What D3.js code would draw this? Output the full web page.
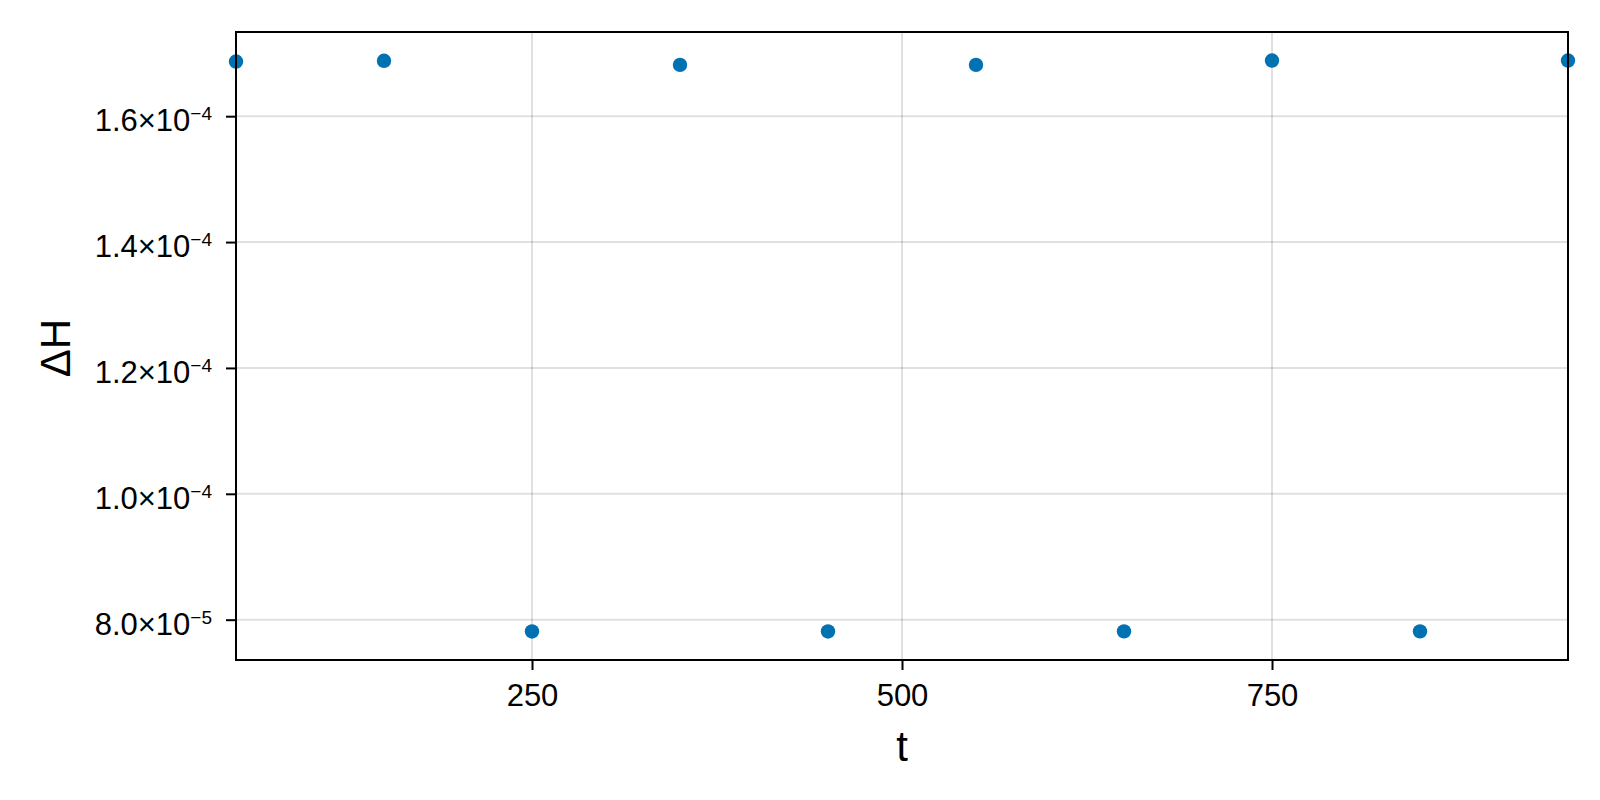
<!DOCTYPE html>
<html>
<head>
<meta charset="utf-8">
<script src="https://cdn.jsdelivr.net/npm/d3@7"></script>
<style>
    body { margin: 0; background: #fff; }
    text { font-family: "Liberation Sans", Arial, sans-serif; fill: #000; }
    .grid line { stroke: rgba(0, 0, 0, 0.12); stroke-width: 2; }
</style>
</head>
<body>
<svg id="chart" width="1600" height="800"></svg>
<script>

// Zeitpunkte und Energiefehler
const tWerte = [50, 150, 250, 350, 450, 550, 650, 750, 850, 950];
const dHWerte = [1.6868e-4, 1.6880e-4, 7.813e-5, 1.6815e-4, 7.813e-5,
                 1.6815e-4, 7.814e-5, 1.6884e-4, 7.814e-5, 1.6884e-4];

const xTicks = [250, 500, 750];
const yTicks = [8e-5, 1e-4, 1.2e-4, 1.4e-4, 1.6e-4];
const yTickMantisse = ["8.0", "1.0", "1.2", "1.4", "1.6"];
const yTickExponent = ["−5", "−4", "−4", "−4", "−4"];

const xLabel = "t";
const yLabel = "ΔH";

let svg = d3.select("#chart"),
    margin = { top: 32, right: 32, bottom: 140, left: 236 },
    width = 1600 - margin.left - margin.right,
    height = 800 - margin.top - margin.bottom;

let g = svg.append("g")
    .attr("transform", `translate(${margin.left},${margin.top})`);

// Skalen (y mit 5% Rand wie Makie)
let yMin = d3.min(dHWerte), yMax = d3.max(dHWerte),
    pad = (yMax - yMin) * 0.05;

let xScale = d3.scaleLinear()
    .domain([d3.min(tWerte), d3.max(tWerte)])
    .range([0, width]);

let yScale = d3.scaleLinear()
    .domain([yMin - pad, yMax + pad])
    .range([height, 0]);

// Gitter
g.append("g")
    .attr("class", "grid")
    .selectAll("line.gx")
    .data(xTicks)
    .enter()
    .append("line")
    .attr("x1", d => xScale(d)).attr("x2", d => xScale(d))
    .attr("y1", 0).attr("y2", height);

g.append("g")
    .attr("class", "grid")
    .selectAll("line.gy")
    .data(yTicks)
    .enter()
    .append("line")
    .attr("y1", d => yScale(d)).attr("y2", d => yScale(d))
    .attr("x1", 0).attr("x2", width);

// Punkte
g.selectAll(".punkt")
    .data(tWerte)
    .enter()
    .append("circle")
    .attr("class", "punkt")
    .attr("cx", (d, i) => xScale(d))
    .attr("cy", (d, i) => yScale(dHWerte[i]))
    .attr("r", 7.2)
    .style("fill", "#0072B2");

// Rahmen
g.append("rect")
    .attr("x", 0).attr("y", 0)
    .attr("width", width).attr("height", height)
    .attr("fill", "none")
    .attr("stroke", "#000")
    .attr("stroke-width", 2);

// X-Achse
let xAxis = d3.axisBottom(xScale)
    .tickValues(xTicks)
    .tickSize(10)
    .tickPadding(14)
    .tickFormat(d3.format("d"));

let gx = g.append("g")
    .attr("transform", `translate(0,${height})`)
    .call(xAxis);
gx.select(".domain").remove();
gx.selectAll(".tick line").attr("stroke", "#000").attr("stroke-width", 2);
gx.selectAll(".tick text")
    .attr("font-size", 31)
    .attr("font-family", "Liberation Sans, Arial, sans-serif");

// Y-Achse
let yAxis = d3.axisLeft(yScale)
    .tickValues(yTicks)
    .tickSize(10)
    .tickFormat("");

let gy = g.append("g").call(yAxis);
gy.select(".domain").remove();
gy.selectAll(".tick line").attr("stroke", "#000").attr("stroke-width", 2);

let yLab = gy.selectAll(".tick")
    .append("text")
    .attr("x", -24)
    .attr("y", 14.5)
    .attr("text-anchor", "end")
    .attr("font-size", 31)
    .attr("font-family", "Liberation Sans, Arial, sans-serif")
    .attr("fill", "#000");

yLab.append("tspan")
    .text((d, i) => yTickMantisse[i] + "×10");
yLab.append("tspan")
    .attr("dy", -11)
    .attr("font-size", 19)
    .text((d, i) => yTickExponent[i]);

// Achsentitel
svg.append("text")
    .attr("x", margin.left + width / 2)
    .attr("y", 761)
    .attr("text-anchor", "middle")
    .attr("font-size", 42)
    .text(xLabel);

svg.append("text")
    .attr("transform", `translate(70,${margin.top + height / 2 + 2}) rotate(-90)`)
    .attr("text-anchor", "middle")
    .attr("font-size", 42)
    .text(yLabel);

</script>
</body>
</html>
